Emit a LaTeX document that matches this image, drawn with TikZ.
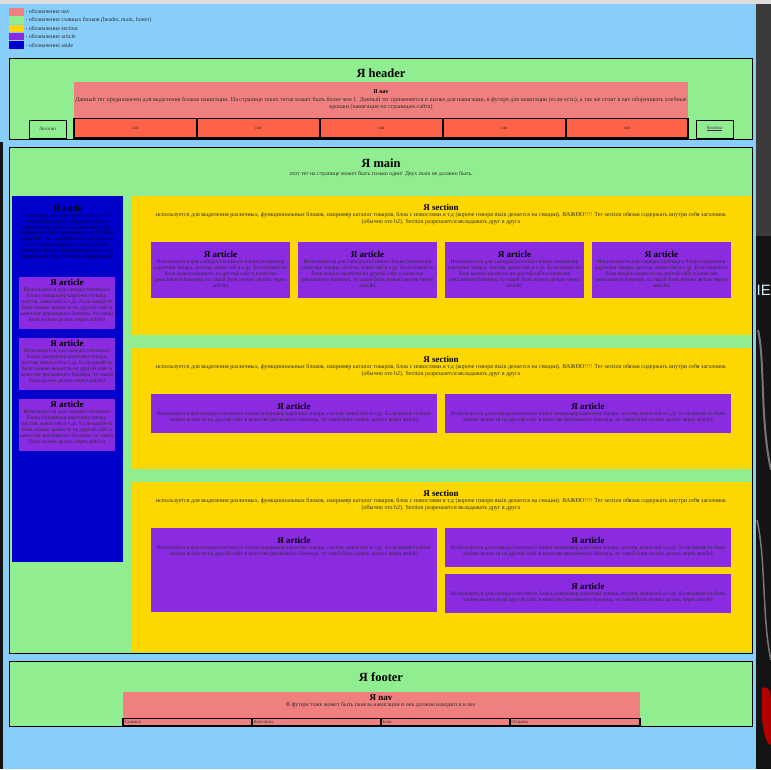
\documentclass[tikz,border=0pt]{standalone}
\usepackage{fontspec}
\setmainfont{Liberation Serif}[BoldFont={* Bold}, ItalicFont={* Italic}, BoldItalicFont={* Bold Italic}]
\newfontfamily\stripfont{Liberation Sans}
\usetikzlibrary{calc}
\hyphenpenalty=10000

\definecolor{pagebg}{HTML}{87CEFA}
\definecolor{blockgreen}{HTML}{90EE90}
\definecolor{navcoral}{HTML}{F08080}
\definecolor{navlink}{HTML}{FF6347}
\definecolor{secgold}{HTML}{FFD700}
\definecolor{artviolet}{HTML}{8A2BE2}
\definecolor{asideblue}{HTML}{0000CD}
\definecolor{bodytxt}{HTML}{2E2E2E}
\definecolor{linkpurple}{HTML}{551A8B}
\definecolor{stripgray}{HTML}{3B3B3B}
\definecolor{stripdark}{HTML}{141414}
\definecolor{topbar}{HTML}{DCDCDC}

\newcommand\arttext{Используется для самодостаточного блока (например карточки товара, постов, новостей и.т.д). Если какой-то блок можно вынести на другой сайт в качестве рекламного баннера, то такой блок нужно делать через article)}
\newcommand\sectext{используется для выделения различных, функциональных блоков, например каталог товаров, блок с новостями и т.д (короче говоря main делается на секции). ВАЖНО\textcolor{red}{!!!!} Тег section обязан содержать внутри себя заголовок (обычно это h2). Section разрешается вкладывать друг в друга}

\tikzset{
  mainblock/.style={fill=blockgreen, draw=black, line width=0.9pt},
  navarea/.style={fill=navcoral},
  navcell/.style={fill=navlink, draw=black, line width=1.3pt},
  footcell/.style={fill=navcoral, draw=black, line width=1.1pt},
  sectionarea/.style={fill=secgold},
  articlearea/.style={fill=artviolet},
  asidearea/.style={fill=asideblue},
  bigtitle/.style={font=\bfseries\fontsize{12.5}{14}\selectfont, inner sep=0pt, anchor=center},
  midtitle/.style={font=\bfseries\fontsize{9}{10}\selectfont, inner sep=0pt, anchor=center},
  smalltitle/.style={font=\bfseries\fontsize{6}{7}\selectfont, inner sep=0pt, anchor=center},
  bodytext/.style={font=\fontsize{5.8}{6.6}\selectfont, text=bodytxt, align=flush center, inner sep=0pt, anchor=north},
  sectiontext/.style={bodytext, font=\fontsize{6}{6.8}\selectfont},
  artbodytext/.style={bodytext, font=\fontsize{5.6}{5.9}\selectfont},
  tinytext/.style={font=\fontsize{4.8}{5.5}\selectfont, text=bodytxt, inner sep=0pt},
  legendtext/.style={font=\fontsize{5.8}{6.5}\selectfont, text=bodytxt, inner sep=0pt, anchor=west},
}

% article block: name, x1, y1, x2, y2, title offset
\newcommand\artbox[6]{%
  \fill[articlearea] (#2,#3) rectangle (#4,#5);
  \pgfmathsetmacro\artw{#4-#2-1.5}
  \node[midtitle] (#1t) at ({(#2+#4)/2},{#3+#6}) {Я article};
  \node[artbodytext, text width=\artw pt] (#1b) at ({(#2+#4)/2},{#3+#6+5.5}) {\arttext};
}
% section block: name, y1, y2
\newcommand\secbox[3]{%
  \fill[sectionarea] (131,#2) rectangle (751,#3);
  \node[midtitle] (#1t) at (441,{#2+11}) {Я section};
  \node[sectiontext, text width=578pt] (#1b) at (441,{#2+16}) {\sectext};
}

\begin{document}
\begin{tikzpicture}[x=1pt,y=-1pt]
\useasboundingbox (0,0) rectangle (771,769);

% page background and window edges
\fill[pagebg] (0,0) rectangle (771,769);
\fill[topbar] (0,0) rectangle (771,4);
\fill[stripdark] (0,142) rectangle (2.5,769);
\fill[stripgray] (756,4) rectangle (771,769);
\fill[stripdark] (756,236) rectangle (771,769);
\draw[stripgray!70, line width=2pt] (758,330) .. controls (765,360) and (760,420) .. (771,470);
\draw[stripgray!70, line width=1.5pt] (757,520) .. controls (766,560) and (762,620) .. (771,660);
\node[font=\stripfont\fontsize{15}{15}\selectfont, text=white!85!cyan, inner sep=0pt, anchor=west] (striptext) at (756.5,290) {IE};
\fill[red!70!black] (762,688) .. controls (771,684) and (771,700) .. (771,700) -- (771,745) .. controls (765,744) and (760,725) .. (762,688) -- cycle;

% legend
\foreach \i/\c/\lbl in {0/navcoral/{- обозначение nav},
                       1/blockgreen/{- обозначение главных блоков (header, main, footer)},
                       2/secgold/{- обозначение section},
                       3/artviolet/{- обозначение article},
                       4/asideblue/{- обозначение aside}} {
  \fill[\c] (9,{8+\i*8.3}) rectangle (24,{15.5+\i*8.3});
  \node[legendtext] (legend\i) at (25.5,{11.8+\i*8.3}) {\lbl};
}

% header
\draw[mainblock] (9,58) rectangle (752,139);
\node[bigtitle] (headertitle) at (381,73) {Я header};
\fill[navarea] (74,82) rectangle (688,118);
\node[smalltitle] (headnavtitle) at (381,91.5) {Я nav};
\node[bodytext, font=\fontsize{6}{6.8}\selectfont, text width=612pt] (headnavtext) at (381,97) {Данный тег предназначен для выделения блоков навигации. На странице таких тегов может быть более чем 1. Данный тег применяется в шапке для навигации, в футере для навигации (если есть), а так же стоит в nav оборачивать хлебные крошки (навигация по страницам сайта)};
\foreach \x/\y [count=\k] in {74/197, 197/320, 320/443, 443/566, 566/688} {
  \draw[navcell] (\x,118.5) rectangle (\y,138);
  \node[tinytext] (navlink\k) at ({(\x+\y)/2},128) {ran};
}
\draw[fill=blockgreen, draw=black, line width=1pt] (29,120) rectangle (66,138);
\node[tinytext] (logo) at (47.5,129) {Логотип};
\draw[fill=blockgreen, draw=black, line width=1pt] (696,120) rectangle (733,138);
\node[tinytext, text=linkpurple!60!bodytxt] (button) at (714.5,128.5) {\underline{Кнопка}};

% main
\draw[mainblock] (9,147) rectangle (752,653);
\node[bigtitle] (maintitle) at (381,163) {Я main};
\node[bodytext] (maintext) at (381,171.5) {этот тег на странице может быть только один! Двух main не должно быть.};

% aside
\fill[asidearea] (12,196) rectangle (123,562);
\node[midtitle] (asidetitle) at (67.5,208) {Я aside};
\node[artbodytext, text width=97pt, text=black!80!asideblue] (asidetext) at (67.5,213) {этот блок сигнализирует что-то что находится сбоку (например блок с фильтрами, реклама, новости и т.д). Однако жесткой привязки к месту блока aside Нет т.е. он необязательно должен быть только справа (слева) (можно понять). В этом теге располагается не главная и второстепенная информация)};
\artbox{asideartA}{19}{277}{115}{329}{5.5}
\artbox{asideartB}{19}{338}{115}{390}{5.5}
\artbox{asideartC}{19}{399}{115}{451}{5.5}

% first section: four articles
\secbox{secA}{196}{335}
\artbox{secAartA}{151}{242}{290}{298}{12}
\artbox{secAartB}{298}{242}{437}{298}{12}
\artbox{secAartC}{445}{242}{584}{298}{12}
\artbox{secAartD}{592}{242}{731}{298}{12}

% second section: two articles
\secbox{secB}{348}{469}
\artbox{secBartA}{151}{394}{437}{433}{12}
\artbox{secBartB}{445}{394}{731}{433}{12}

% third section: one tall article and two stacked ones
\secbox{secC}{482}{652}
\artbox{secCartA}{151}{528}{437}{612}{12}
\artbox{secCartB}{445}{528}{731}{567}{12}
\artbox{secCartC}{445}{574}{731}{613}{12}

% footer
\draw[mainblock] (9,661) rectangle (752,726);
\node[bigtitle] (footertitle) at (381,677) {Я footer};
\fill[navarea] (123,692) rectangle (640,718);
\node[midtitle] (footnavtitle) at (381,697.5) {Я nav};
\node[bodytext, font=\fontsize{5.9}{6.6}\selectfont] (footnavtext) at (381,702.3) {В футере тоже может быть панель навигации и она должна находится в nav};
\foreach \x/\y/\lbl [count=\k] in {123/252/Главная, 252/381/Контакты, 381/510/Блог, 510/640/Отзывы} {
  \draw[footcell] (\x,718.5) rectangle (\y,726);
  \node[tinytext, anchor=west] (footlink\k) at (\x+1.5,722.4) {\lbl};
}
\end{tikzpicture}
\end{document}
